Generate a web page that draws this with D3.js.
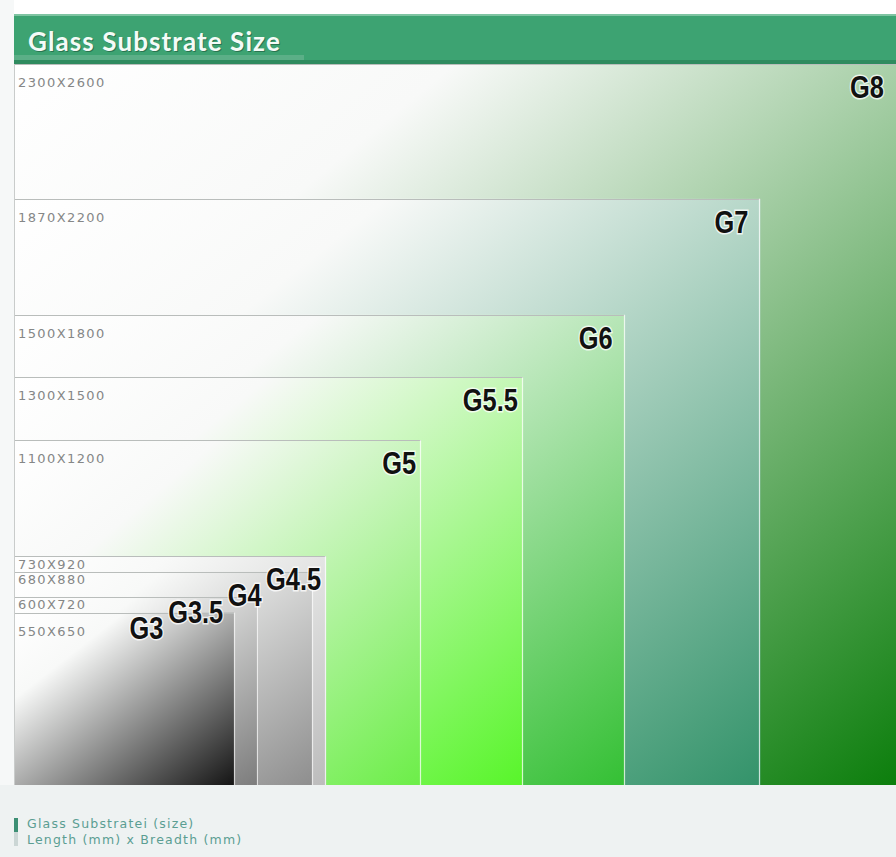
<!DOCTYPE html>
<html>
<head>
<meta charset="utf-8">
<script src="https://cdn.jsdelivr.net/npm/d3@7"></script>
<style>
  html, body { margin: 0; padding: 0; background: #ffffff; }
  svg { display: block; }
</style>
</head>
<body>
<svg id="chart" width="896" height="857"></svg>
<script>
// Glass substrate generations, smallest to largest
const generations = ["G3", "G3.5", "G4", "G4.5", "G5", "G5.5", "G6", "G7", "G8"];
// Length (mm) of each substrate
const lengthMM = [550, 600, 680, 730, 1100, 1300, 1500, 1870, 2300];
// Breadth (mm) of each substrate
const breadthMM = [650, 720, 880, 920, 1200, 1500, 1800, 2200, 2600];

// Colour each panel fades into at its lower right corner
const shadeEnds = ["#141414", "#7c7c7c", "#8e8e8e", "#bcbcbc", "#6cee48",
                   "#58f52a", "#34c034", "#33936a", "#0c7e0c"];

const legendLines = ["Glass Substratei (size)", "Length (mm) x Breadth (mm)"];
const titleText = "Glass Substrate Size";

const W = 896, H = 857;
const plot = { left: 14, right: 896, top: 64, bottom: 785 };

const svg = d3.select("#chart");

// page backgrounds
svg.append("rect").attr("x", 0).attr("y", 0).attr("width", W).attr("height", H).attr("fill", "#ffffff");
svg.append("rect").attr("x", 0).attr("y", 0).attr("width", plot.left).attr("height", H).attr("fill", "#f6f8f8");
svg.append("rect").attr("x", 0).attr("y", plot.bottom).attr("width", W).attr("height", H - plot.bottom).attr("fill", "#eef2f2");

// scales: length runs up, breadth runs right, both from the bottom-left corner
const y = d3.scaleLinear().domain([0, d3.max(lengthMM)]).range([plot.bottom, plot.top]);
const x = d3.scaleLinear().domain([0, d3.max(breadthMM)]).range([plot.left, plot.right]);

const items = generations.map((g, i) => ({
  gen: g, len: lengthMM[i], br: breadthMM[i], shade: shadeEnds[i], idx: i
}));

// diagonal white-to-colour gradients
const defs = svg.append("defs");
items.forEach(d => {
  const gr = defs.append("linearGradient")
    .attr("id", "grad" + d.idx)
    .attr("x1", 0).attr("y1", 0).attr("x2", 1).attr("y2", 1);
  gr.append("stop").attr("offset", 0).attr("stop-color", "#ffffff");
  gr.append("stop").attr("offset", 0.25).attr("stop-color", "#f8f9f8");
  gr.append("stop").attr("offset", 1).attr("stop-color", d.shade);
});

// draw the largest panel first so the smaller ones sit on top
const ordered = items.slice().sort((a, b) => b.len - a.len);

const panels = svg.append("g").attr("class", "panels");
panels.selectAll("rect.panel")
  .data(ordered)
  .join("rect")
  .attr("class", "panel")
  .attr("x", plot.left)
  .attr("y", d => y(d.len))
  .attr("width", d => x(d.br) - plot.left)
  .attr("height", d => plot.bottom - y(d.len))
  .attr("fill", d => "url(#grad" + d.idx + ")");

// panel edges: grey top edge, pale right edge
panels.selectAll("line.top")
  .data(ordered)
  .join("line")
  .attr("class", "top")
  .attr("x1", plot.left).attr("x2", d => x(d.br))
  .attr("y1", d => Math.round(y(d.len)) + 0.5).attr("y2", d => Math.round(y(d.len)) + 0.5)
  .attr("stroke", "#b9bdbb").attr("stroke-width", 1);
panels.selectAll("line.right")
  .data(ordered.filter(d => x(d.br) < plot.right - 1))
  .join("line")
  .attr("class", "right")
  .attr("x1", d => Math.round(x(d.br)) - 0.5).attr("x2", d => Math.round(x(d.br)) - 0.5)
  .attr("y1", d => y(d.len)).attr("y2", plot.bottom)
  .attr("stroke", "#ffffff").attr("stroke-opacity", 0.75).attr("stroke-width", 1.2);
svg.append("line")
  .attr("x1", plot.left + 0.5).attr("x2", plot.left + 0.5)
  .attr("y1", plot.top).attr("y2", plot.bottom)
  .attr("stroke", "#c9cccb");

// size captions at the top-left of each panel
const byLen = items.slice().sort((a, b) => a.len - b.len);
function gapToInner(d) {
  const k = byLen.indexOf(d);
  return k > 0 ? y(byLen[k - 1].len) - y(d.len) : plot.bottom - y(d.len);
}
const obstacles = [];
const captions = svg.append("g").selectAll("text")
  .data(ordered)
  .join("text")
  .attr("x", plot.left + 4)
  .attr("y", d => y(d.len) + (gapToInner(d) < 30 ? 12.5 : 23))
  .attr("font-family", "'DejaVu Sans', Verdana, sans-serif")
  .attr("font-size", 13)
  .attr("letter-spacing", 1.4)
  .attr("fill", "#858787")
  .text(d => d.len + "X" + d.br);
captions.each(function () {
  const b = this.getBBox();
  obstacles.push({ x0: b.x, x1: b.x + b.width, y0: b.y + 2, y1: b.y + b.height - 3 });
});

// generation names, top right of each panel; nudged aside if they would collide
const nameLayer = svg.append("g");
const nameSize = 31, capH = Math.round(nameSize * 0.72), narrow = 0.82;
function hits(r) {
  return obstacles.some(p => r.x0 < p.x1 + 3 && r.x1 > p.x0 - 3 && r.y0 < p.y1 + 2 && r.y1 > p.y0 - 2);
}
ordered.forEach(d => {
  const t = nameLayer.append("text")
    .attr("text-anchor", "end")
    .attr("x", 0).attr("y", 0)
    .attr("font-family", "'Liberation Sans', Arial, sans-serif")
    .attr("font-weight", "bold")
    .attr("font-size", nameSize)
    .attr("fill", "#111111")
    .attr("stroke", "#ffffff").attr("stroke-width", 3).attr("stroke-opacity", 0.75)
    .attr("paint-order", "stroke")
    .text(d.gen);
  const w = t.node().getComputedTextLength() * narrow;
  const big = plot.bottom - y(d.len) > 200;
  const startRight = x(d.br) - (x(d.br) > 600 ? 12 : 5);
  const startTop = y(d.len) + (big ? 12 : 4);
  let spot = null;
  for (let dy = 0; dy <= 80 && !spot; dy += 2) {
    for (let r = startRight; r - w >= plot.left + 4; r -= 2) {
      const rect = { x0: r - w, x1: r, y0: startTop + dy, y1: startTop + dy + capH };
      if (!hits(rect)) { spot = rect; break; }
    }
  }
  if (!spot) spot = { x0: startRight - w, x1: startRight, y0: startTop, y1: startTop + capH };
  t.attr("transform", `translate(${spot.x1},${spot.y1}) scale(${narrow},1)`);
  obstacles.push(spot);
});

// title bar
const bar = svg.append("g");
bar.append("rect").attr("x", plot.left).attr("y", 14).attr("width", W - plot.left).attr("height", 50).attr("fill", "#3da372");
bar.append("rect").attr("x", plot.left).attr("y", 14).attr("width", W - plot.left).attr("height", 2).attr("fill", "#7fc4a2");
bar.append("rect").attr("x", plot.left).attr("y", 60).attr("width", W - plot.left).attr("height", 4).attr("fill", "#2f8b5f");
bar.append("rect").attr("x", plot.left).attr("y", 55).attr("width", 290).attr("height", 5).attr("fill", "#6fb896").attr("opacity", 0.6);
[["#2a7450", 1], ["#f4fbf7", 0]].forEach(([fill, off]) => {
  bar.append("text")
    .attr("x", 28 + off).attr("y", 51 + off)
    .attr("font-family", "Lato, 'Open Sans', sans-serif")
    .attr("font-weight", 700)
    .attr("font-size", 26)
    .attr("letter-spacing", 1.1)
    .attr("fill", fill)
    .text(titleText);
});

// legend note under the chart
svg.append("rect").attr("x", 14).attr("y", 818).attr("width", 4).attr("height", 14).attr("fill", "#3c8f74");
svg.append("rect").attr("x", 14).attr("y", 832).attr("width", 4).attr("height", 14).attr("fill", "#cbd6d5");
svg.append("g").selectAll("text")
  .data(legendLines)
  .join("text")
  .attr("x", 27)
  .attr("y", (d, i) => 828 + i * 16)
  .attr("font-family", "'DejaVu Sans', Verdana, sans-serif")
  .attr("font-size", 12.5)
  .attr("letter-spacing", 1.2)
  .attr("fill", "#5b9e92")
  .text(d => d);
</script>
</body>
</html>
